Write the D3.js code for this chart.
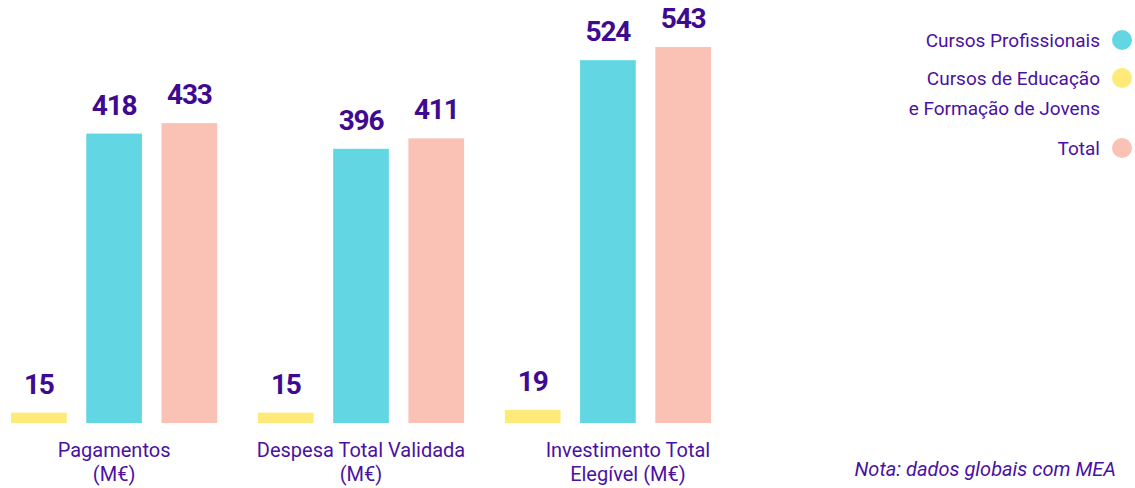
<!DOCTYPE html>
<html lang="pt">
<head>
  <meta charset="UTF-8" />
  <title>Cursos Profissionais e CEF</title>
  <script src="https://d3js.org/d3.v7.min.js"></script>
  <style>
    body {
      margin: 0;
      background: #fff;
    }
    svg {
      display: block;
      font-family: Roboto, "Liberation Sans", sans-serif;
    }
    .value {
      font-weight: bold;
      font-size: 28px;
      fill: #3d0a91;
      letter-spacing: -1.2px;
    }
    .cat {
      font-size: 20px;
      fill: #4a11a3;
    }
    .legend text {
      font-size: 19px;
      fill: #4a11a3;
    }
    .note {
      font-size: 20px;
      font-style: italic;
      fill: #4a11a3;
    }
  </style>
</head>
<body>
  <div id="chart"></div>

  <script>
    // categories (label lines)
    const categories = ["Pagamentos", "Despesa Total Validada", "Investimento Total Elegível"];
    const categoryLines = [
      ["Pagamentos", "(M€)"],
      ["Despesa Total Validada", "(M€)"],
      ["Investimento Total", "Elegível (M€)"]
    ];

    // series, in the order drawn inside each group
    const series = ["CEF", "Profissionais", "Total"];
    const cefValues = [15, 15, 19];
    const profValues = [418, 396, 524];
    const totalValues = [433, 411, 543];
    const seriesColors = ["#feea78", "#62d7e3", "#fac2b4"];

    // legend
    const legendLabels = [["Cursos Profissionais"], ["Cursos de Educação", "e Formação de Jovens"], ["Total"]];
    const legendColors = ["#62d7e3", "#feea78", "#fac2b4"];

    const note = "Nota: dados globais com MEA";

    const width = 1135, height = 488;
    const baseline = 423;

    const svg = d3.select("#chart").append("svg")
      .attr("width", width)
      .attr("height", height);

    const x0 = d3.scaleBand()
      .domain(categories)
      .range([11, 711])
      .paddingInner(0.165);

    const x1 = d3.scaleBand()
      .domain(series)
      .range([0, x0.bandwidth()])
      .paddingInner(0.26);

    const y = d3.scaleLinear()
      .domain([0, 543])
      .range([baseline, 47]);

    const seriesValues = [cefValues, profValues, totalValues];
    const rows = [];
    categories.forEach((c, i) => {
      series.forEach((s, j) => {
        rows.push({ cat: c, series: s, value: seriesValues[j][i], color: seriesColors[j] });
      });
    });

    const groups = svg.append("g");

    groups.selectAll("rect")
      .data(rows)
      .join("rect")
      .attr("x", d => x0(d.cat) + x1(d.series))
      .attr("y", d => y(d.value))
      .attr("width", x1.bandwidth())
      .attr("height", d => baseline - y(d.value))
      .attr("fill", d => d.color);

    groups.selectAll("text.value")
      .data(rows)
      .join("text")
      .attr("class", "value")
      .attr("x", d => x0(d.cat) + x1(d.series) + x1.bandwidth() / 2)
      .attr("y", d => y(d.value) - 19)
      .attr("text-anchor", "middle")
      .text(d => d.value);

    // category labels under each group
    const catText = svg.append("g").selectAll("text")
      .data(categories)
      .join("text")
      .attr("class", "cat")
      .attr("text-anchor", "middle")
      .attr("x", (d, i) => x0(d) + x0.bandwidth() / 2 + (i === 2 ? 20 : 0))
      .attr("y", 457);

    catText.selectAll("tspan")
      .data((d, i) => categoryLines[i])
      .join("tspan")
      .attr("x", function() { return this.parentNode.getAttribute("x"); })
      .attr("dy", (d, i) => i === 0 ? 0 : 24)
      .text(d => d);

    // legend, right aligned
    const legendY = [40, 78, 148];
    const legend = svg.append("g").attr("class", "legend");
    legendLabels.forEach((lines, i) => {
      legend.append("circle")
        .attr("cx", 1122)
        .attr("cy", legendY[i])
        .attr("r", 10)
        .attr("fill", legendColors[i]);
      const t = legend.append("text")
        .attr("text-anchor", "end")
        .attr("x", 1100)
        .attr("y", legendY[i] + 7);
      lines.forEach((l, k) => {
        t.append("tspan")
          .attr("x", 1100)
          .attr("dy", k === 0 ? 0 : 30)
          .text(l);
      });
    });

    svg.append("text")
      .attr("class", "note")
      .attr("text-anchor", "end")
      .attr("x", 1116)
      .attr("y", 476)
      .text(note);
  </script>
</body>
</html>
